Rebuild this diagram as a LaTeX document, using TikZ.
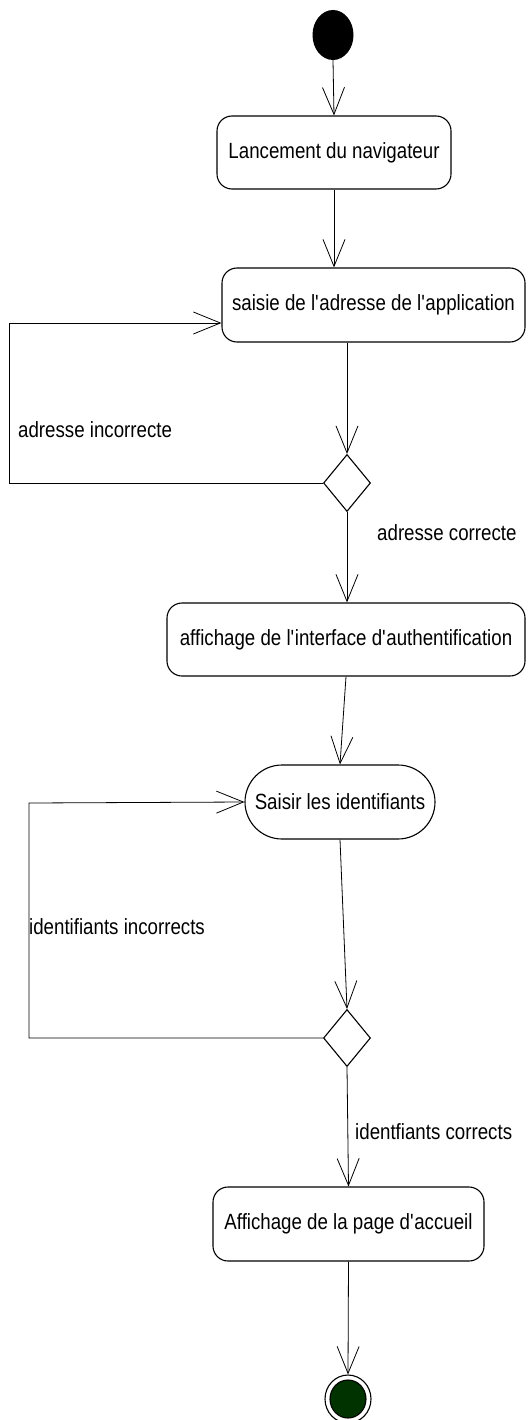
\documentclass[tikz,border=0pt]{standalone}
\usepackage{fontspec}
\setmainfont[FakeStretch=0.85]{Liberation Sans}
\usepackage{tikz}
\usetikzlibrary{shapes.geometric,arrows.meta,positioning,calc}
\definecolor{finalgreen}{RGB}{0,51,0}
\newcommand{\q}{\textquotesingle}

\begin{document}
\begin{tikzpicture}[
    x=1pt, y=-1pt,
    activity/.style={draw, rounded corners=15pt, line width=1.1pt,
                     minimum height=73pt, inner sep=0pt, align=center,
                     font=\fontsize{22}{26}\selectfont},
    decision/.style={draw, diamond, line width=1.1pt, inner sep=0pt,
                     minimum width=47pt, minimum height=57pt},
    guard/.style={anchor=west, inner sep=0pt,
                  font=\fontsize{22}{26}\selectfont},
    flow/.style={line width=0.8pt,
                 -{Straight Barb[length=27pt,width=22pt,line width=0.8pt]}},
]

\useasboundingbox (0,0) rectangle (528,1420);
\clip (0,0) rectangle (528,1420);

% Initial node
\node[ellipse, fill=black, minimum width=41pt, minimum height=50pt,
      inner sep=0pt] (start) at (333, 35) {};

% Activities
\node[activity, minimum width=234pt] (launch) at (334, 152.5)
    {Lancement du navigateur};
\node[activity, minimum width=303pt, minimum height=74pt] (address)
    at (373.5, 305) {saisie de l\q adresse de l\q application};
\node[decision] (dec1) at (347, 483) {};
\node[activity, minimum width=358pt] (authform) at (346, 639.5)
    {affichage de l\q interface d\q authentification};
\node[activity, rounded corners=37pt, minimum width=190pt,
      minimum height=74pt] (creds) at (340, 802) {Saisir les identifiants};
\node[decision] (dec2) at (347, 1038) {};
\node[activity, minimum width=271pt, minimum height=74pt] (home)
    at (348.5, 1224) {Affichage de la page d\q accueil};

% Final node
\node[ellipse, draw, fill=white, line width=1.1pt, minimum width=46pt,
      minimum height=48pt, inner sep=0pt] (final) at (348, 1399) {};
\node[ellipse, draw, fill=finalgreen, line width=1.1pt, minimum width=36pt,
      minimum height=38pt, inner sep=0pt] (finalcore) at (final.center) {};

% Loop corners
\coordinate (loopA) at (9, 323);
\coordinate (loopB) at (29, 803);

% Flows
\draw[flow] (start.south) -- (launch.north);
\draw[flow] (launch.south) -- (launch.south |- address.north);
\draw[flow] (dec1 |- address.south) -- (dec1.north);
\draw[flow] (dec1.west) -| (loopA) -- (loopA -| address.west);
\draw[flow] (dec1.south) -- (dec1 |- authform.north);
\draw[flow] (authform.south) -- (creds.north);
\draw[flow] (creds.south) -- (dec2.north);
\draw[flow] (dec2.west) -| (loopB) -- (creds.west);
\draw[flow] (dec2.south) -- (home.north);
\draw[flow] (home.south) -- (final.north);

% Guards
\node[guard] (badaddr) at (18, 430) {adresse incorrecte};
\node[guard] (okaddr) at (377, 533) {adresse correcte};
\node[guard] (badcreds) at (29, 927) {identifiants incorrects};
\node[guard] (okcreds) at (355, 1132) {identfiants corrects};

\end{tikzpicture}
\end{document}
